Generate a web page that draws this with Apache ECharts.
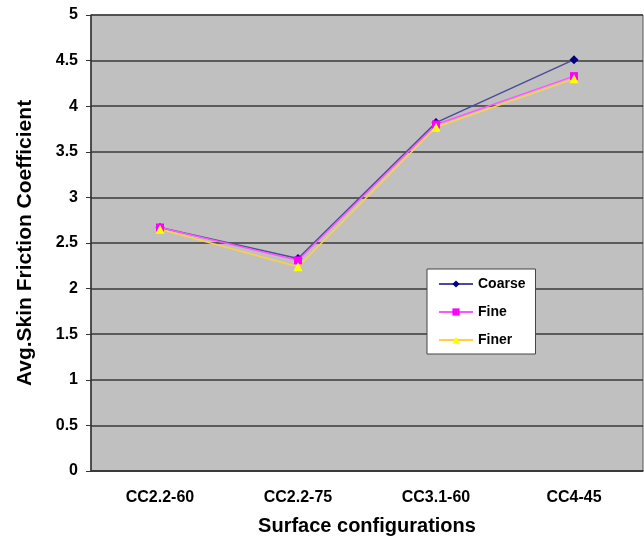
<!DOCTYPE html>
<html>
<head>
<meta charset="utf-8">
<script src="https://cdn.jsdelivr.net/npm/echarts@6/dist/echarts.min.js"></script>
<style>
html,body{margin:0;padding:0;background:#fff;}
#main{width:644px;height:542px;}
</style>
</head>
<body>
<div id="main"></div>
<script>
const categories = ['CC2.2-60', 'CC2.2-75', 'CC3.1-60', 'CC4-45'];
const coarse = [2.67, 2.33, 3.82, 4.51];
const fine = [2.67, 2.31, 3.80, 4.33];
const finer = [2.65, 2.24, 3.77, 4.30];
const seriesNames = ['Coarse', 'Fine', 'Finer'];

function mkSeries(name, data, lineColor, markColor, symbol, size) {
  return {
    name: name,
    type: 'line',
    data: data,
    symbol: symbol,
    symbolSize: size,
    lineStyle: { color: lineColor, width: 1.5 },
    itemStyle: { color: markColor },
    z: 3
  };
}

const option = {
  animation: false,
  backgroundColor: '#fff',
  grid: {
    left: 91, right: 1, top: 15, bottom: 71,
    show: true,
    backgroundColor: '#c0c0c0',
    borderColor: '#555',
    borderWidth: 1
  },
  legend: {
    orient: 'vertical',
    left: 427, top: 269,
    itemWidth: 34, itemHeight: 9,
    itemGap: 14,
    backgroundColor: '#fff',
    borderColor: '#444',
    borderWidth: 1,
    padding: [8, 10, 7, 11],
    textStyle: { fontFamily: 'Liberation Sans', fontWeight: 'bold', fontSize: 14, color: '#000' },
    data: seriesNames
  },
  xAxis: {
    type: 'category',
    data: categories,
    boundaryGap: true,
    name: 'Surface configurations',
    nameLocation: 'middle',
    nameGap: 45,
    nameTextStyle: { fontFamily: 'Liberation Sans', fontWeight: 'bold', fontSize: 20, color: '#000' },
    axisLine: { lineStyle: { color: '#333', width: 1.5 } },
    axisTick: { alignWithLabel: true, length: 4, lineStyle: { color: '#333' } },
    axisLabel: { fontFamily: 'Liberation Sans', fontWeight: 'bold', fontSize: 16, color: '#000', margin: 19 }
  },
  yAxis: {
    type: 'value',
    min: 0, max: 5, interval: 0.5,
    name: 'Avg.Skin Friction Coefficient',
    nameLocation: 'middle',
    nameGap: 55,
    nameTextStyle: { fontFamily: 'Liberation Sans', fontWeight: 'bold', fontSize: 21, color: '#000' },
    axisLine: { show: true, lineStyle: { color: '#333', width: 1.5 } },
    axisTick: { show: true, length: 5, lineStyle: { color: '#333' } },
    axisLabel: { fontFamily: 'Liberation Sans', fontWeight: 'bold', fontSize: 16, color: '#000', margin: 13 },
    splitLine: { lineStyle: { color: '#3a3a3a', width: 1.5 } }
  },
  series: [
    mkSeries('Coarse', coarse, '#4b4b9a', '#000080', 'diamond', 9),
    mkSeries('Fine', fine, '#ff55ff', '#ff00ff', 'rect', 8),
    mkSeries('Finer', finer, '#ffd040', '#ffff00', 'triangle', 9)
  ]
};

const myChart = echarts.init(document.getElementById('main'));
myChart.setOption(option);
</script>
</body>
</html>
